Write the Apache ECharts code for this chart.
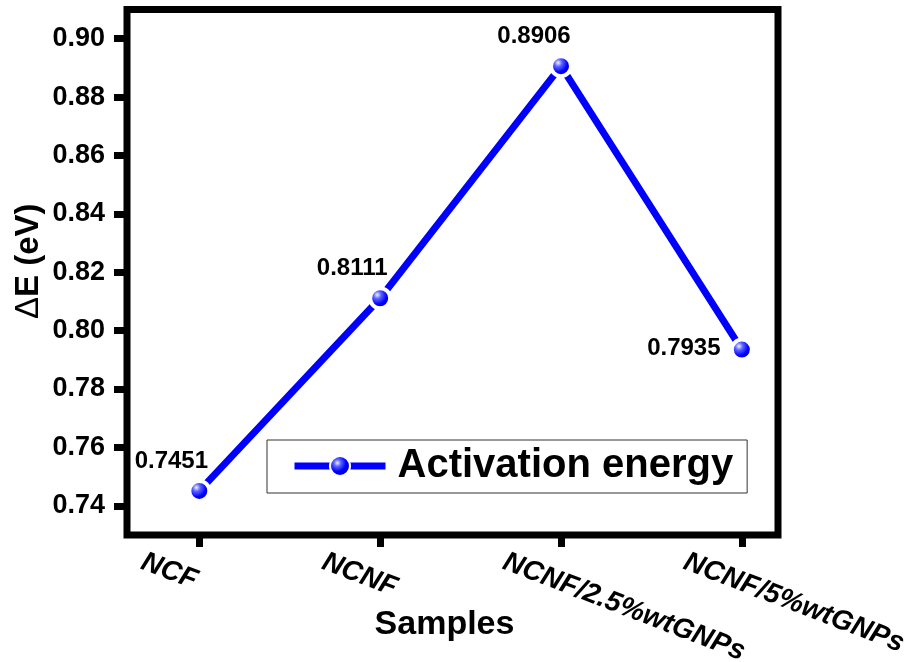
<!DOCTYPE html>
<html>
<head>
<meta charset="utf-8">
<script src="https://cdn.jsdelivr.net/npm/echarts@6/dist/echarts.min.js"></script>
<style>
  html, body { margin: 0; padding: 0; background: #ffffff; }
  #chart { width: 911px; height: 662px; }
</style>
</head>
<body>
<div id="chart"></div>
<script>
// Sample names on the x axis and their activation energies (eV)
const samples = ['NCF', 'NCNF', 'NCNF/2.5%wtGNPs', 'NCNF/5%wtGNPs'];
const activationEnergy = [0.7451, 0.8111, 0.8906, 0.7935];
const yTicks = [0.74, 0.76, 0.78, 0.80, 0.82, 0.84, 0.86, 0.88, 0.90];
const seriesName = 'Activation energy';

// Where each value label sits relative to its marker
const labelOffsets = [[-28, -30], [-28, -30], [-27, -30], [-58, -1]];

const FONT = '"Liberation Sans", Arial, Helvetica, sans-serif';
const chart = echarts.init(document.getElementById('chart'), null, { renderer: 'canvas' });

// Shaded ball marker
const sphere = new echarts.graphic.RadialGradient(0.38, 0.36, 0.65, [
  { offset: 0, color: '#f0f2ff' },
  { offset: 0.25, color: '#5b63ff' },
  { offset: 0.6, color: '#0000ff' },
  { offset: 1, color: '#0000c4' }
]);

const sampleIdx = samples.map((_, i) => i);

const option = {
  animation: false,
  backgroundColor: '#ffffff',
  grid: {
    left: 127, right: 133, top: 9.5, bottom: 127,
    show: true, borderColor: '#000', borderWidth: 7,
    backgroundColor: 'transparent',
    outerBoundsMode: 'none'
  },
  legend: {
    data: [seriesName],
    left: 267, top: 440,
    padding: [6, 14, 7, 24],
    borderColor: '#333', borderWidth: 1,
    itemWidth: 91, itemHeight: 25,
    lineStyle: { width: 7, color: '#0000ff' },
    textStyle: { fontFamily: FONT, fontWeight: 'bold', fontSize: 40, color: '#000', padding: [0, 0, 0, 7] }
  },
  xAxis: {
    type: 'value', min: -0.4, max: 3.2,
    axisLine: { show: false, onZero: false },
    splitLine: { show: false },
    axisTick: { show: true, customValues: sampleIdx, length: 12, lineStyle: { color: '#000', width: 7 } },
    axisLabel: {
      customValues: sampleIdx,
      formatter: v => samples[Math.round(v)],
      rotate: -21, margin: 48, padding: [0, 0, 0, -61],
      fontFamily: FONT, fontStyle: 'italic', fontWeight: 'bold', fontSize: 28, color: '#000'
    },
    name: 'Samples', nameLocation: 'middle', nameGap: 73, nameMoveOverlap: false,
    nameTextStyle: { fontFamily: FONT, fontWeight: 'bold', fontSize: 34, color: '#000', padding: [0, 16, 0, 0] }
  },
  yAxis: {
    type: 'value', min: 0.73, max: 0.91,
    axisLine: { show: false, onZero: false },
    splitLine: { show: false },
    axisTick: { show: true, customValues: yTicks, length: 13, lineStyle: { color: '#000', width: 7 } },
    axisLabel: {
      customValues: yTicks,
      formatter: v => v.toFixed(2),
      margin: 22,
      fontFamily: FONT, fontWeight: 'bold', fontSize: 27, color: '#000'
    },
    name: '{d|\u0394}E (eV)', nameLocation: 'middle', nameGap: 82, nameRotate: 90, nameMoveOverlap: false,
    nameTextStyle: {
      fontFamily: FONT, fontWeight: 'bold', fontSize: 33, color: '#000', padding: [0, 0, 0, 22],
      rich: { d: { fontFamily: FONT, fontWeight: 'normal', fontSize: 33, color: '#000' } }
    }
  },
  series: [{
    type: 'line',
    name: seriesName,
    data: activationEnergy.map((v, i) => ({ value: [i, v], label: { offset: labelOffsets[i] } })),
    symbol: 'circle',
    symbolSize: 20,
    itemStyle: { color: sphere, borderColor: '#ffffff', borderWidth: 4 },
    lineStyle: { color: '#0000ff', width: 7 },
    label: {
      show: true, position: 'inside',
      formatter: p => p.value[1].toFixed(4),
      fontFamily: FONT, fontWeight: 'bold', fontSize: 24, color: '#000'
    },
    emphasis: { disabled: true }
  }]
};

chart.setOption(option);
</script>
</body>
</html>
